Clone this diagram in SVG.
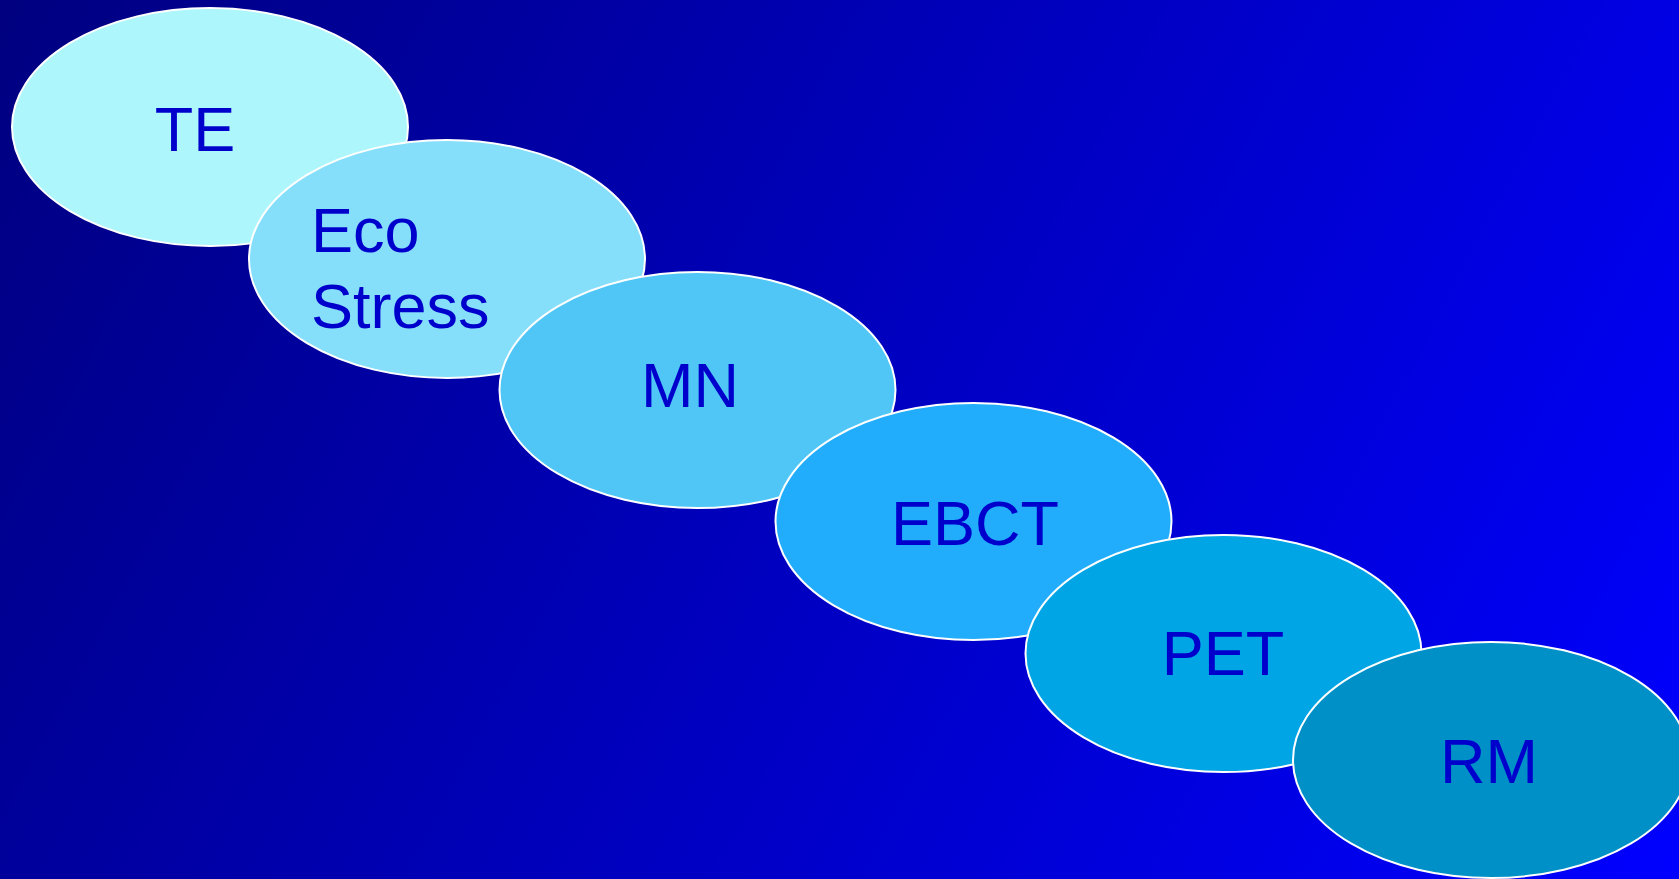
<svg xmlns="http://www.w3.org/2000/svg" width="1679" height="879" viewBox="0 0 1679 879">
<defs>
<linearGradient id="bg" gradientUnits="userSpaceOnUse" x1="0" y1="0" x2="1679" y2="879">
<stop offset="0" stop-color="#000080"/>
<stop offset="1" stop-color="#0000FF"/>
</linearGradient>
<style>
.n{stroke:#FFFFFF;stroke-width:2}
.t{font-family:"Liberation Sans",Arial,sans-serif;font-size:63px;fill:#0000CC}
.c{text-anchor:middle}
</style>
</defs>
<rect width="1679" height="879" fill="url(#bg)"/>
<g id="node-te">
<ellipse class="n" cx="210" cy="127" rx="198" ry="119" fill="#ADF6FC"/>
<text class="t c" x="195" y="151">TE</text>
</g>
<g id="node-eco">
<ellipse class="n" cx="447" cy="259" rx="198" ry="119" fill="#86DFFA"/>
<text class="t" x="311" y="252">Eco</text>
<text class="t" x="311" y="328">Stress</text>
</g>
<g id="node-mn">
<ellipse class="n" cx="697.5" cy="390" rx="198" ry="118" fill="#50C6F7"/>
<text class="t c" x="690" y="407">MN</text>
</g>
<g id="node-ebct">
<ellipse class="n" cx="973.5" cy="521.5" rx="198" ry="118.5" fill="#22ADFC"/>
<text class="t c" x="975" y="545">EBCT</text>
</g>
<g id="node-pet">
<ellipse class="n" cx="1223.5" cy="653.5" rx="198" ry="118.5" fill="#00A5E5"/>
<text class="t c" x="1223" y="675">PET</text>
</g>
<g id="node-rm">
<ellipse class="n" cx="1491" cy="760" rx="198" ry="118" fill="#0090C8"/>
<text class="t c" x="1489" y="783">RM</text>
</g>
<g id="connectors"/>
</svg>
